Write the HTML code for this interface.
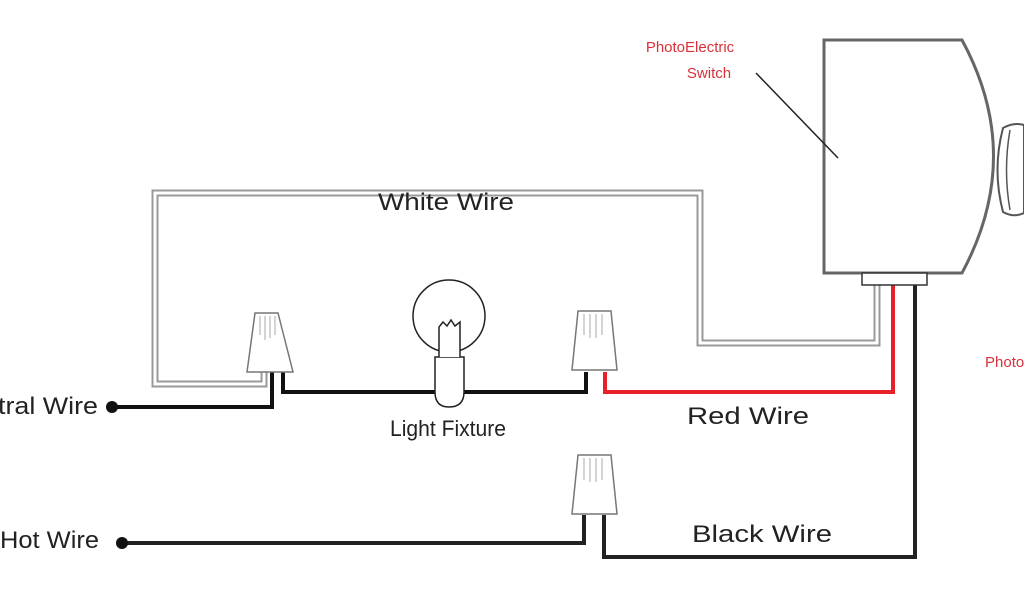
<!DOCTYPE html>
<html><head><meta charset="utf-8"><style>
html,body{margin:0;padding:0;background:#fff;width:1024px;height:600px;overflow:hidden}
text{font-family:"Liberation Sans",sans-serif}
</style></head><body>
<svg width="1024" height="600" viewBox="0 0 1024 600" xmlns="http://www.w3.org/2000/svg">
<path d="M264,372 V384 H155 V193 H700 V343 H877 V285" fill="none" stroke="#999" stroke-width="7"/>
<path d="M264,372 V384 H155 V193 H700 V343 H877 V285" fill="none" stroke="#fff" stroke-width="3"/>
<path d="M112,407 H272 V372" fill="none" stroke="#111" stroke-width="4"/>
<path d="M283,372 V392 H586 V372" fill="none" stroke="#111" stroke-width="4"/>
<path d="M605,372 V392 H893 V285" fill="none" stroke="#e8202a" stroke-width="4"/>
<path d="M915,285 V557 H604 V515" fill="none" stroke="#222" stroke-width="4"/>
<path d="M122,543 H584 V515" fill="none" stroke="#222" stroke-width="4"/>
<circle cx="112" cy="407" r="6" fill="#111"/>
<circle cx="122" cy="543" r="6" fill="#111"/>
<g fill="#fff" stroke="#777" stroke-width="1.5">
<path d="M255,313 H278 L293,372 H247 Z"/>
<path d="M578,311 H611 L617,370 H572 Z"/>
<path d="M578,455 H611 L617,514 H572 Z"/>
</g>
<g stroke="#aaa" stroke-width="1">
<path d="M260,316 V335 M265,316 V340 M270,316 V338 M275,316 V335"/>
<path d="M584,314 V335 M590,314 V338 M596,314 V338 M602,314 V335"/>
<path d="M584,458 V480 M590,458 V482 M596,458 V482 M602,458 V480"/>
</g>
<circle cx="449" cy="316" r="36" fill="#fff" stroke="#222" stroke-width="1.5"/>
<path d="M435,392 V357 H464 V392 Q464,407 449,407 Q435,407 435,392 Z" fill="#fff" stroke="#222" stroke-width="1.5"/>
<path d="M439,357 V327 L443,322 L447,326 L451,320 L455,326 L460,322 V357" fill="#fff" stroke="#222" stroke-width="1.5"/>
<path d="M824,40 H962 Q1025,156 962,273 H824 Z" fill="#fff" stroke="#666" stroke-width="3"/>
<path d="M1003,128 Q1014,122 1024,125 V213 Q1014,218 1003,212 Q992,170 1003,128 Z" fill="#fff" stroke="#555" stroke-width="2"/>
<path d="M1010,130 Q1003,170 1010,210" fill="none" stroke="#555" stroke-width="1.5"/>
<rect x="862" y="273" width="65" height="12" fill="#fff" stroke="#333" stroke-width="1.5"/>
<line x1="756" y1="73" x2="838" y2="158" stroke="#222" stroke-width="1.5"/>
<text x="690" y="52" font-size="15" fill="#d9303a" text-anchor="middle">PhotoElectric</text>
<text x="709" y="78" font-size="15" fill="#d9303a" text-anchor="middle">Switch</text>
<text x="985" y="367" font-size="15" fill="#d9303a">Photo</text>
<text x="446" y="210" font-size="24" fill="#222" text-anchor="middle" textLength="136" lengthAdjust="spacingAndGlyphs">White Wire</text>
<text x="448" y="436" font-size="22" fill="#222" text-anchor="middle" textLength="116" lengthAdjust="spacingAndGlyphs">Light Fixture</text>
<text x="748" y="424" font-size="24" fill="#222" text-anchor="middle" textLength="122" lengthAdjust="spacingAndGlyphs">Red Wire</text>
<text x="762" y="542" font-size="24" fill="#222" text-anchor="middle" textLength="140" lengthAdjust="spacingAndGlyphs">Black Wire</text>
<text x="98" y="414" font-size="24" fill="#222" text-anchor="end" textLength="100" lengthAdjust="spacingAndGlyphs">tral Wire</text>
<text x="99" y="548" font-size="24" fill="#222" text-anchor="end" textLength="99" lengthAdjust="spacingAndGlyphs">Hot Wire</text>
</svg>
</body></html>
